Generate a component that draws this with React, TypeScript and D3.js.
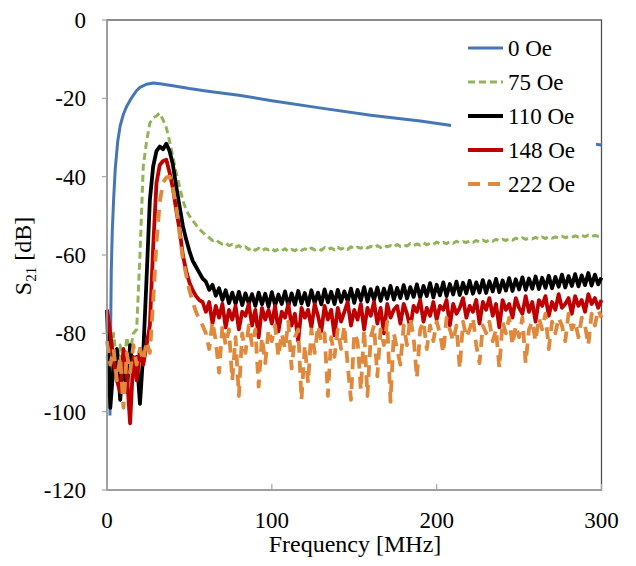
import React from "react";
import * as d3 from "d3";

// frequency grid of the noisy traces, MHz (value i sits at i * FREQ_STEP)
const FREQ_STEP = 2;

// 0 Oe trace, smooth, own sampling
const FREQ_0OE = [1.8, 2.2, 2.6, 3.2, 4, 5, 6.5, 8, 10, 12, 15, 18, 20, 24, 28, 32, 40, 50, 60, 80, 100, 130, 160, 190, 210, 250, 280, 300];
const S21_0OE = [-101, -80, -64, -54, -46, -38, -31, -27, -24, -22, -19.8, -18, -17.2, -16.4, -16.1, -16.3, -16.8, -17.5, -18.1, -19.2, -20.6, -22.5, -24.3, -25.8, -27, -29.3, -30.8, -31.9];

const S21_75OE = [
  -86, -92, -80, -88, -83, -90, -81, -85, -80, -79, // 0
  -60, -37.4, -31, -26.3, -25, -24.5, -23.8, -25.5, -27.5, -31, // 20
  -35, -39, -42.5, -46, -48.5, -50, -51.2, -52.3, -53.4, -54.2, // 40
  -55.0, -55.6, -56.3, -56.0, -56.8, -57.2, -56.9, -57.6, -57.3, -58.0, // 60
  -57.6, -58.3, -57.9, -58.6, -58.1, -58.8, -58.3, -58.9, -58.4, -58.7, // 80
  -58.3, -59.0, -58.5, -58.9, -58.4, -59.1, -58.6, -58.9, -58.3, -58.8, // 100
  -58.4, -58.9, -58.2, -58.7, -58.3, -58.8, -58.1, -58.6, -58.2, -58.7, // 120
  -58.0, -58.5, -58.1, -58.6, -57.9, -58.4, -58.0, -58.3, -57.7, -58.2, // 140
  -57.8, -58.2, -57.6, -58.1, -57.5, -57.9, -57.6, -58.0, -57.3, -57.8, // 160
  -57.4, -57.7, -57.1, -57.6, -57.2, -57.5, -56.9, -57.4, -57.0, -57.3, // 180
  -56.7, -57.2, -56.8, -57.1, -56.6, -57.0, -56.5, -56.9, -56.6, -56.8, // 200
  -56.4, -56.8, -56.3, -56.7, -56.2, -56.6, -56.1, -56.5, -56.0, -56.4, // 220
  -56.0, -56.3, -55.8, -56.2, -55.7, -56.1, -55.6, -56.0, -55.7, -55.9, // 240
  -55.5, -55.9, -55.4, -55.8, -55.3, -55.7, -55.4, -55.6, -55.2, -55.6, // 260
  -55.3, -55.5, -55.1, -55.4, -55.0, -55.3, -54.9, -55.3, -55.0, -55.2, // 280
  -55.1,
];

const S21_110OE = [
  -74, -99, -88, -84, -97, -86, -95, -83, -90, -86, // 0
  -98, -85, -66, -46, -37.4, -33.5, -32.3, -33, -31.6, -33.5, // 20
  -37, -42.5, -47.5, -52.5, -56, -59, -61.5, -63, -64.5, -66, // 40
  -66.8, -68.9, -67.6, -70.4, -68.5, -71.5, -69.0, -72.3, -69.6, -72.5, // 60
  -69.4, -72.8, -69.8, -72.4, -70.0, -73.0, -69.6, -72.6, -69.9, -73.2, // 80
  -69.5, -72.9, -70.1, -72.5, -69.3, -73.0, -69.8, -72.7, -69.2, -72.4, // 100
  -69.7, -72.8, -69.0, -72.3, -69.6, -72.6, -68.8, -72.1, -69.4, -72.5, // 120
  -68.9, -72.0, -69.3, -71.8, -68.6, -72.2, -68.9, -71.6, -68.2, -71.9, // 140
  -68.7, -71.5, -68.3, -71.7, -68.6, -71.2, -67.9, -71.4, -68.4, -71.0, // 160
  -67.7, -71.1, -68.2, -70.7, -67.5, -70.9, -67.9, -70.5, -67.2, -70.8, // 180
  -67.6, -70.3, -67.0, -70.5, -67.4, -70.1, -66.8, -70.2, -67.1, -69.8, // 200
  -66.6, -69.9, -67.0, -69.6, -66.4, -69.7, -66.7, -69.3, -66.1, -69.5, // 220
  -66.5, -69.1, -65.9, -69.2, -66.2, -68.8, -65.7, -68.9, -66.0, -68.6, // 240
  -65.5, -68.7, -65.8, -68.4, -65.3, -68.5, -65.6, -68.1, -65.0, -68.3, // 260
  -65.4, -67.9, -64.9, -68.0, -65.2, -67.7, -64.6, -67.8, -65.0, -67.5, // 280
  -65.8,
];

const S21_148OE = [
  -74, -80, -87, -92, -95, -84, -90, -103, -86, -92, // 0
  -84, -88, -83, -78, -58, -41.7, -37, -36, -35.7, -39, // 20
  -43, -48.5, -53.5, -60, -64, -67, -69, -70.5, -71.5, -72, // 40
  -74.5, -72.0, -77.5, -73.0, -76.0, -72.5, -78.5, -74.0, -76.5, -73.0, // 60
  -79.0, -74.5, -75.5, -72.5, -78.0, -74.0, -81.0, -73.5, -76.5, -74.0, // 80
  -77.5, -73.0, -79.5, -74.5, -76.0, -72.5, -78.0, -75.0, -82.0, -73.5, // 100
  -76.0, -74.0, -78.5, -72.5, -75.5, -79.5, -73.0, -76.5, -74.0, -80.5, // 120
  -73.5, -77.0, -74.5, -72.0, -78.0, -74.0, -76.5, -72.5, -79.0, -73.5, // 140
  -75.5, -72.0, -77.5, -73.5, -80.0, -72.5, -76.0, -74.0, -73.0, -77.5, // 160
  -72.5, -75.0, -78.5, -73.0, -74.5, -71.5, -77.0, -73.5, -75.5, -72.0, // 180
  -76.5, -73.0, -74.0, -71.5, -78.0, -72.5, -75.0, -73.5, -71.0, -76.0, // 200
  -73.0, -74.5, -71.5, -77.5, -72.0, -74.0, -71.0, -75.5, -72.5, -78.5, // 220
  -71.5, -74.0, -72.5, -76.0, -71.0, -73.5, -75.0, -70.5, -74.5, -72.0, // 240
  -77.0, -71.5, -73.0, -70.5, -75.5, -72.0, -74.0, -70.0, -73.5, -72.5, // 260
  -71.0, -75.0, -70.5, -73.0, -71.5, -74.5, -70.0, -72.5, -71.0, -73.5, // 280
  -71.5,
];

const S21_222OE = [
  -82, -88, -84, -92, -86, -99, -85, -90, -83, -88, // 0
  -84, -87, -82, -85, -72, -57, -46.5, -41.5, -40.2, -40, // 20
  -43, -47.5, -54.5, -61, -65, -69, -72, -74.5, -76.5, -78, // 40
  -80, -84, -77, -82, -90, -78, -83, -79, -92, -81, // 60
  -96, -80, -85, -78, -83, -79, -93.6, -81, -87.6, -79, // 80
  -82, -78, -86, -80, -84, -77, -89, -81, -79, -97, // 100
  -83, -92.7, -79, -85, -78, -82, -80, -96, -81, -86, // 120
  -79, -84, -78, -88, -97, -80, -82, -94.5, -79, -96, // 140
  -81, -78, -91, -79, -83, -77, -97.5, -80, -84, -88, // 160
  -78, -83, -76, -81, -91.4, -79, -77, -84, -78, -82, // 180
  -77, -80, -85, -76, -79, -82, -78, -89, -77, -81, // 200
  -79, -76, -83, -87.6, -78, -80, -77, -82, -79, -88.8, // 220
  -77, -80, -76, -83, -78, -81, -76, -87.6, -79, -77, // 240
  -82, -76, -79, -75, -84, -77, -80, -76, -78, -82, // 260
  -75, -79, -77, -81, -76, -78, -83, -75, -78, -74, // 280
  -76,
];

const SERIES = [
  { name: "0 Oe", freq: FREQ_0OE, values: S21_0OE, color: "#4677b4", width: 3, dash: "" },
  { name: "75 Oe", freq: null, values: S21_75OE, color: "#92b35a", width: 3, dash: "7,4" },
  { name: "110 Oe", freq: null, values: S21_110OE, color: "#000000", width: 3.8, dash: "" },
  { name: "148 Oe", freq: null, values: S21_148OE, color: "#c00000", width: 3.8, dash: "" },
  { name: "222 Oe", freq: null, values: S21_222OE, color: "#e0883c", width: 3.8, dash: "12,8" },
];

const X_TICKS = [0, 100, 200, 300];
const Y_TICKS = [0, -20, -40, -60, -80, -100, -120];

export default function App() {
  const left = 107, right = 601.5, top = 20, bottom = 490;
  const x = d3.scaleLinear().domain([0, 300]).range([left, right]);
  const y = d3.scaleLinear().domain([-120, 0]).range([bottom, top]);

  const paths = SERIES.map((s) => {
    const pts: [number, number][] = s.values.map((v, i) => [
      s.freq ? s.freq[i] : i * FREQ_STEP,
      v,
    ]);
    const line = d3
      .line<[number, number]>()
      .x((d) => x(d[0]))
      .y((d) => y(d[1]));
    return line(pts) || "";
  });

  const legX = 468, legY = 48, legStep = 34;

  // text is left on the page's default (serif) face
  return (
    <svg width={636} height={566} style={{ position: "absolute", left: 0, top: 0 }}>
      <rect x={0} y={0} width={636} height={566} fill="#fff" />
      {/* plot frame */}
      <rect x={left} y={top} width={right - left} height={bottom - top} fill="none" stroke="#505050" strokeWidth={1.3} />

      {SERIES.map((s, i) => (
        <path
          key={s.name}
          d={paths[i]}
          fill="none"
          stroke={s.color}
          strokeWidth={s.width}
          strokeDasharray={s.dash || undefined}
          strokeLinejoin="round"
        />
      ))}

      {/* axes */}
      <line x1={left} x2={left} y1={top} y2={bottom} stroke="#a6a6a6" strokeWidth={1.5} />
      <line x1={left} x2={right} y1={bottom} y2={bottom} stroke="#a6a6a6" strokeWidth={1.5} />
      {Y_TICKS.map((t) => (
        <line key={"yt" + t} x1={left - 5} x2={left} y1={y(t)} y2={y(t)} stroke="#a6a6a6" strokeWidth={1.2} />
      ))}
      {X_TICKS.map((t) => (
        <line key={"xt" + t} x1={x(t)} x2={x(t)} y1={bottom - 6} y2={bottom} stroke="#a6a6a6" strokeWidth={1.2} />
      ))}

      {Y_TICKS.map((t) => (
        <text key={"yl" + t} x={86} y={y(t) + 8} fontSize={23} textAnchor="end">
          {String(t)}
        </text>
      ))}
      {X_TICKS.map((t) => (
        <text key={"xl" + t} x={x(t)} y={528} fontSize={23} textAnchor="middle">
          {String(t)}
        </text>
      ))}

      <text x={355} y={552} fontSize={24} textAnchor="middle">
        Frequency [MHz]
      </text>
      <text transform="rotate(-90)" x={-256} y={31} fontSize={24} textAnchor="middle">
        S<tspan fontSize={15} dy={5}>21</tspan>
        <tspan dy={-5}> [dB]</tspan>
      </text>

      {/* legend */}
      <rect x={451} y={24} width={145} height={180} fill="#fff" />
      {SERIES.map((s, i) => (
        <line
          key={"ls" + s.name}
          x1={legX}
          x2={legX + 35}
          y1={legY + i * legStep}
          y2={legY + i * legStep}
          stroke={s.color}
          strokeWidth={s.width}
          strokeDasharray={s.dash || undefined}
        />
      ))}
      {SERIES.map((s, i) => (
        <text key={"lt" + s.name} x={508} y={legY + i * legStep + 8} fontSize={23}>
          {s.name}
        </text>
      ))}
    </svg>
  );
}
